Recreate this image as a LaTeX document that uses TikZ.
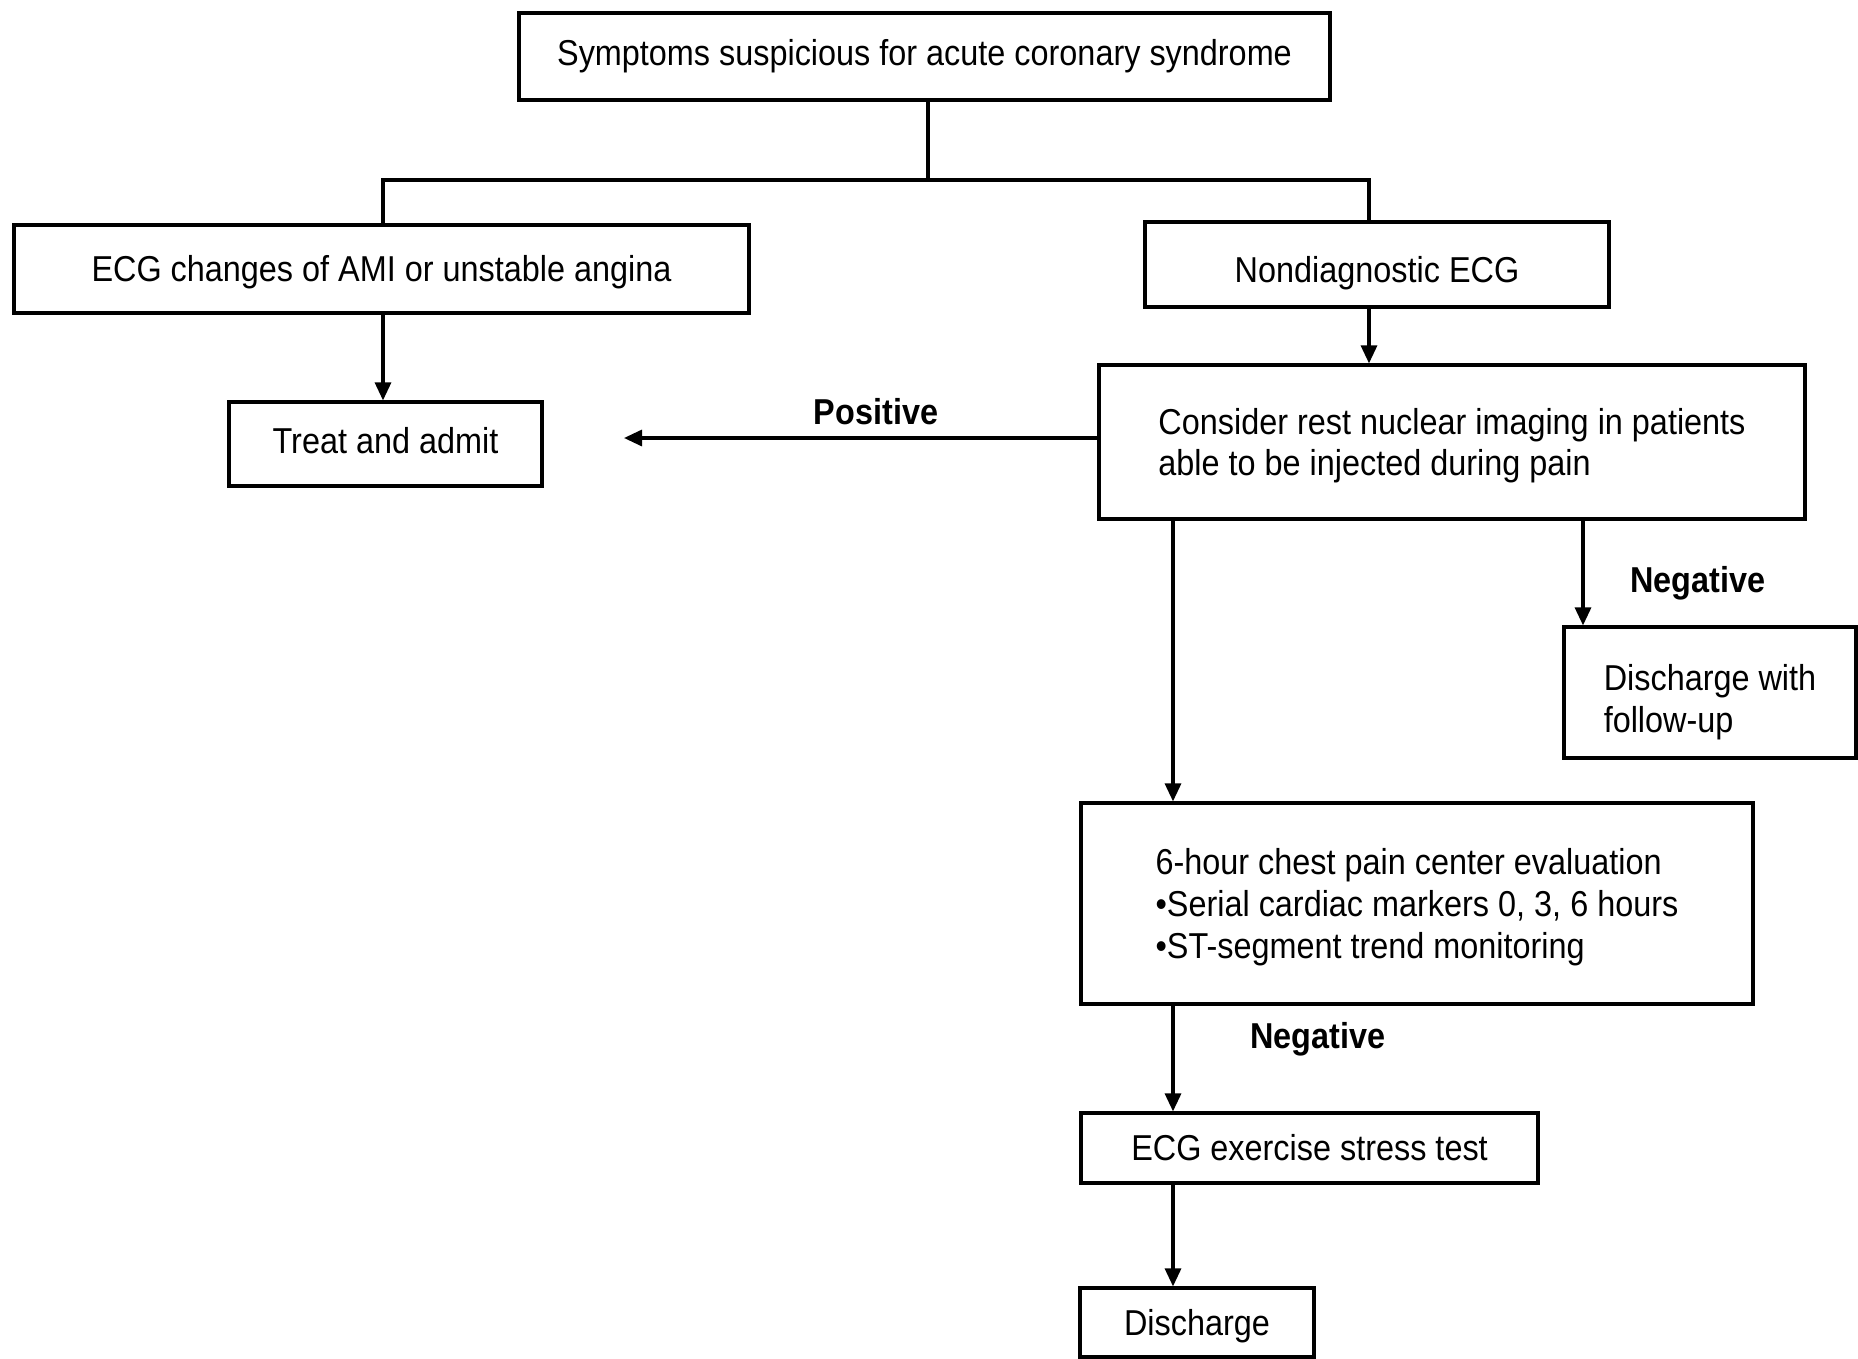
\documentclass[tikz,border=0pt]{standalone}
\usepackage{fontspec}
\setmainfont{Liberation Sans}[FakeStretch=0.9]
\usetikzlibrary{arrows.meta}
\newcommand{\tstrut}[1]{\rule{0pt}{#1}}
\tikzset{
  box/.style={draw=black, line width=1.6pt, fill=white, inner sep=0pt, align=left,
    font=\fontsize{18pt}{20.8pt}\selectfont},
  tdown/.style={execute at begin node={\rule{0pt}{#1}}},
  tup/.style={execute at begin node={\rule[-#1]{0pt}{0pt}}},
  conn/.style={line width=1.6pt},
  arr/.style={conn, -{Triangle[width=8pt,length=9pt]}},
  lbl/.style={font=\fontsize{18pt}{20.8pt}\selectfont\bfseries, inner sep=0pt}
}
\begin{document}
\begin{tikzpicture}[x=0.5pt,y=-0.5pt]
\useasboundingbox (0,0) rectangle (1858,1359);
\fill[white] (0,0) rectangle (1858,1359);

\node[box, minimum width=405.5pt, minimum height=43.5pt] (top) at (924.5,56.5) {Symptoms suspicious for acute coronary syndrome};
\node[box, tdown=16.7pt, minimum width=367.5pt, minimum height=44pt] (ecg) at (381.5,269) {ECG changes of AMI or unstable angina};
\node[box, tdown=21.4pt, minimum width=232pt, minimum height=42.5pt] (nondiag) at (1377,264.5) {Nondiagnostic ECG};
\node[box, tup=3.6pt, minimum width=156.5pt, minimum height=42pt] (treat) at (385.5,444) {Treat and admit};
\node[box, minimum width=353pt, minimum height=77pt] (consider) at (1452,442) {\tstrut{16.7pt}Consider rest nuclear imaging in patients\\able to be injected during pain};
\node[box, minimum width=146pt, minimum height=65.5pt] (dfu) at (1710,692.5) {\tstrut{22.6pt}Discharge with\\follow-up};
\node[box, minimum width=336pt, minimum height=100.5pt] (sixh) at (1417,903.5) {\tstrut{16.7pt}6-hour chest pain center evaluation\\•Serial cardiac markers 0, 3, 6 hours\\•ST-segment trend monitoring};
\node[box, minimum width=228.5pt, minimum height=35pt] (ecgex) at (1309.5,1148) {ECG exercise stress test};
\node[box, tdown=16.7pt, minimum width=117pt, minimum height=34.5pt] (dis) at (1197,1322.5) {Discharge};

\coordinate (jM) at (928,180);
\coordinate (jL) at (383,180);
\coordinate (jR) at (1369,180);
\coordinate (posEnd) at (624,438);
\coordinate (negX) at (1583,0);
\coordinate (midX) at (1173,0);

\draw[conn] (top.south -| jM) -- (jM);
\draw[conn] (ecg.north -| jL) -- (jL) -- (jR) -- (nondiag.north -| jR);
\draw[arr] (ecg.south -| jL) -- (treat.north -| jL);
\draw[arr] (nondiag.south -| jR) -- (consider.north -| jR);
\draw[arr] (consider.west |- posEnd) -- (posEnd);
\draw[arr] (consider.south -| negX) -- (dfu.north -| negX);
\draw[arr] (consider.south -| midX) -- (sixh.north -| midX);
\draw[arr] (sixh.south -| midX) -- (ecgex.north -| midX);
\draw[arr] (ecgex.south -| midX) -- (dis.north -| midX);

\node[lbl] (lpos) at (876,412) {Positive};
\node[lbl] (lneg1) at (1698,583) {Negative};
\node[lbl] (lneg2) at (1318,1039) {Negative};
\end{tikzpicture}
\end{document}
